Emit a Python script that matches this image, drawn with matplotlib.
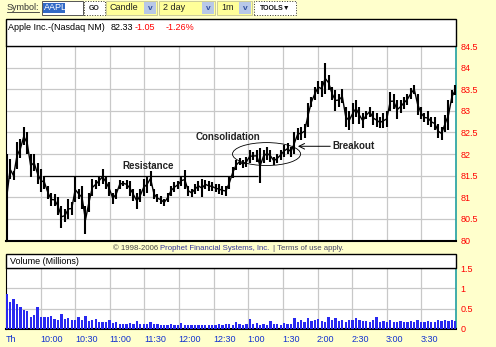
import numpy as np
import matplotlib
matplotlib.use("Agg")
import matplotlib.pyplot as plt
from matplotlib.patches import Rectangle, Ellipse

plt.rcParams['font.family'] = ['Liberation Sans', 'DejaVu Sans']

# price bars (high / low), roughly 3 minute steps from 9:30 to 16:00
highs = [82.0, 81.88, 81.6, 82.27, 82.35, 82.62, 82.5, 82.0, 82.0, 81.8, 81.65, 81.5, 81.27, 81.1, 81.08, 81.0, 80.8,
         80.73, 80.96, 80.9, 81.46, 81.2, 81.27, 80.8, 81.1, 81.42, 81.4, 81.5, 81.65, 81.5, 81.35, 81.1, 81.2, 81.4,
         81.38, 81.4, 81.38, 81.2, 81.1, 81.2, 81.42, 81.5, 81.6, 81.2, 81.08, 81.04, 80.96, 81.1, 81.27, 81.35, 81.38,
         81.5, 81.62, 81.27, 81.2, 81.3, 81.38, 81.42, 81.4, 81.38, 81.35, 81.3, 81.3, 81.27, 81.27, 81.46,
         81.7, 81.86, 81.9, 81.86, 81.94, 82.1, 82.05, 82.1, 82.13, 82.1, 82.17, 82.1, 81.94, 82.0, 82.1, 82.2, 82.25,
         82.17, 82.5, 82.6, 82.63, 82.7, 83.17, 83.32, 83.55, 83.7, 83.7, 84.1, 83.82, 83.55, 83.48, 83.4,
         83.5, 83.1, 83.0, 83.17, 83.25, 83.1, 82.94, 83.0, 83.1, 83.0, 82.94, 82.86, 82.94, 83.0, 83.44, 83.4, 83.25,
         83.25, 83.32, 83.4, 83.52, 83.6, 83.4, 83.1, 82.94, 83.0, 82.86, 82.86, 82.7, 82.63, 82.9, 83.25, 83.48, 83.6]
lows = [80.0, 81.42, 81.4, 81.65, 81.9, 82.2, 82.0, 81.46, 81.6, 81.3, 81.12, 81.2, 80.96, 80.8, 80.8, 80.58, 80.3,
        80.42, 80.5, 80.58, 80.9, 80.96, 80.73, 80.15, 80.65, 81.03, 81.2, 81.27, 81.3, 81.2, 81.03, 80.85, 80.96, 81.2,
        81.27, 81.2, 81.04, 80.92, 80.73, 80.88, 81.04, 81.1, 81.27, 80.96, 80.88, 80.85, 80.8, 80.88, 81.04, 81.12, 81.2,
        81.27, 81.2, 81.04, 81.0, 81.08, 81.15, 81.0, 81.2, 81.15, 81.15, 81.12, 81.08, 81.05, 81.02, 81.2,
        81.44, 81.63, 81.75, 81.67, 81.7, 81.8, 81.86, 81.82, 81.33, 81.8, 81.86, 81.82, 81.75, 81.8, 81.86, 81.94, 82.0,
        81.94, 82.0, 82.33, 82.33, 82.36, 82.63, 83.1, 83.25, 83.4, 83.32, 83.4, 83.48, 83.25, 83.0, 83.1,
        83.17, 82.63, 82.55, 82.7, 82.86, 82.7, 82.6, 82.8, 82.86, 82.67, 82.63, 82.6, 82.6, 82.63, 83.0, 83.05, 82.8,
        82.94, 83.05, 83.13, 83.28, 83.4, 82.9, 82.8, 82.75, 82.67, 82.63, 82.55, 82.36, 82.32, 82.5, 82.55, 83.17, 83.36]

# volume in millions, same steps
volume = [0.86, 0.66, 0.74, 0.62, 0.54, 0.46, 0.44, 0.3, 0.34, 0.54, 0.29, 0.3, 0.29, 0.32, 0.24, 0.22, 0.37, 0.24,
          0.26, 0.21, 0.22, 0.29, 0.21, 0.32, 0.2, 0.22, 0.24, 0.16, 0.18, 0.16, 0.21, 0.14, 0.16, 0.13, 0.12, 0.13,
          0.15, 0.12, 0.2, 0.12, 0.13, 0.12, 0.17, 0.13, 0.12, 0.11, 0.1, 0.11, 0.12, 0.1, 0.11, 0.15, 0.1, 0.09, 0.1,
          0.09, 0.11, 0.09, 0.1, 0.09, 0.11, 0.1, 0.12, 0.1, 0.13, 0.12, 0.11, 0.18, 0.12, 0.11, 0.12, 0.24, 0.12, 0.14,
          0.1, 0.12, 0.11, 0.2, 0.12, 0.13, 0.11, 0.14, 0.12, 0.13, 0.28, 0.16, 0.22, 0.18, 0.27, 0.2, 0.22, 0.25, 0.2,
          0.18, 0.3, 0.22, 0.26, 0.2, 0.22, 0.18, 0.21, 0.23, 0.28, 0.22, 0.19, 0.2, 0.18, 0.21, 0.3, 0.17, 0.19, 0.16,
          0.22, 0.18, 0.17, 0.19, 0.17, 0.18, 0.2, 0.17, 0.21, 0.18, 0.16, 0.19, 0.17, 0.18, 0.21, 0.19, 0.22, 0.2,
          0.21, 0.2]

time_labels = ['Th', '10:00', '10:30', '11:00', '11:30', '12:00', '12:30', '1:00', '1:30', '2:00', '2:30', '3:00', '3:30']
price_ticks = [80, 80.5, 81, 81.5, 82, 82.5, 83, 83.5, 84, 84.5]
vol_ticks = [0, 0.5, 1, 1.5]

W, H = 496, 347
BG = '#FFFFCC'
fig = plt.figure(figsize=(W / 100, H / 100), dpi=100, facecolor=BG)


def rect(x0, y0, x1, y1):
    return [x0 / W, 1 - y1 / H, (x1 - x0) / W, (y1 - y0) / H]


def box(x0, y0, x1, y1, fc, ec='black', lw=0.7, ls='-'):
    fig.patches.append(Rectangle((x0 / W, 1 - y1 / H), (x1 - x0) / W, (y1 - y0) / H, transform=fig.transFigure,
                                 facecolor=fc, edgecolor=ec, linewidth=lw, linestyle=ls))


def ftext(x, y, s, **kw):
    fig.text(x / W, 1 - y / H, s, **kw)


t = np.linspace(0.6, 389.4, len(highs))
grid_c = '#C8C8C8'

# ---- toolbar
ftext(7, 8, 'Symbol:', fontsize=6.5, color='#333333', va='center')
fig.lines.append(plt.Line2D([7 / W, 39 / W], [1 - 12 / H, 1 - 12 / H], transform=fig.transFigure, color='#333333', lw=0.6))
box(42, 1, 83, 15, 'white', '#555555')
box(43, 3, 65, 13, '#3169C6', 'none')
ftext(44, 8, 'AAPL', fontsize=6.5, color='white', va='center')
box(84, 1, 105, 15, 'white', '#333333', ls=':')
ftext(94.5, 8, 'GO', fontsize=5, color='#222222', va='center', ha='center', weight='bold')
for x0, x1, lab in [(106, 157, 'Candle'), (159, 215, '2 day'), (217, 252, '1m')]:
    box(x0, 1, x1, 15, '#FFFF99', '#CCCC99')
    box(x1 - 13, 2, x1 - 1, 14, '#B8C8E8', 'none')
    ftext(x0 + 4, 8, lab, fontsize=6.5, color='#222222', va='center')
    ftext(x1 - 7, 8, 'v', fontsize=6, color='#3050A0', va='center', ha='center', weight='bold')
box(254, 1, 296, 15, 'white', '#333333', ls=':')
ftext(275, 8, 'TOOLS\u25BC', fontsize=5, color='#111111', va='center', ha='center', weight='bold')

# ---- price panel
box(6, 19, 456, 46, 'white', 'black', lw=1)
ftext(8, 27, 'Apple Inc.-(Nasdaq NM)', fontsize=6.5, color='black', va='center')
ftext(111, 27, '82.33', fontsize=6.5, color='black', va='center')
ftext(135, 27, '-1.05', fontsize=6.5, color='red', va='center')
ftext(166, 27, '-1.26%', fontsize=6.5, color='red', va='center')

ax = fig.add_axes(rect(6, 46, 456, 240.5))
ax.set_facecolor('white')
ax.set_xlim(0, 390)
ax.set_ylim(80, 84.5)
for m in range(30, 390, 30):
    ax.axvline(m, color=grid_c, lw=0.9, zorder=0)
for p in price_ticks[1:-1]:
    ax.axhline(p, color=grid_c, lw=0.9, zorder=0)
ax.vlines(t, lows, highs, colors='black', linewidth=1.5, zorder=3)
ax.plot(t, (np.array(highs) + np.array(lows)) / 2, color='black', lw=1.0, zorder=3)

ax.hlines(81.5, 32, 218, colors='black', lw=0.9, zorder=4)
ax.add_patch(Ellipse((225.8, 82.0), 59, 0.53, fill=False, edgecolor='black', lw=0.6, zorder=4))
ax.annotate('', xy=(253, 82.18), xytext=(281, 82.18),
            arrowprops=dict(arrowstyle='->', color='black', lw=0.7, shrinkA=0, shrinkB=0))
ax.text(101, 81.72, 'Resistance', fontsize=7, weight='bold', va='center', color='#222222')
ax.text(164.5, 82.40, 'Consolidation', fontsize=7, weight='bold', va='center', color='#222222')
ax.text(283, 82.18, 'Breakout', fontsize=7, weight='bold', va='center', color='#222222')

ax.set_xticks([])
ax.yaxis.tick_right()
ax.set_yticks(price_ticks)
ax.set_yticklabels([f'{v:g}' for v in price_ticks])
ax.tick_params(axis='y', length=0, pad=3, labelsize=6.5, labelcolor='red')
for s in ['left', 'top']:
    ax.spines[s].set_color('black')
    ax.spines[s].set_linewidth(0.8)
ax.spines['bottom'].set_linewidth(1.5)
ax.spines['right'].set_color('#20A0A0')
ax.spines['right'].set_linewidth(1.2)

# copyright line
ftext(113, 249, '\u00a9 1998-2006', fontsize=5.6, color='#444444', va='center')
ftext(160, 249, 'Prophet Financial Systems, Inc.', fontsize=5.6, color='#333399', va='center')
ftext(273, 249, '| Terms of use apply.', fontsize=5.6, color='#444466', va='center')

# ---- volume panel
box(6, 254, 456, 268, 'white', 'black', lw=1)
ftext(10, 262, 'Volume (Millions)', fontsize=6.5, color='black', va='center')
ax2 = fig.add_axes(rect(6, 268, 456, 329))
ax2.set_facecolor('white')
ax2.set_xlim(0, 390)
ax2.set_ylim(0, 1.5)
for m in range(30, 390, 30):
    ax2.axvline(m, color=grid_c, lw=0.9, zorder=0)
for v in vol_ticks[1:-1]:
    ax2.axhline(v, color=grid_c, lw=0.9, zorder=0)
ax2.bar(t, volume, width=2.0, color='#2828F0', zorder=3)
ax2.set_xticks([])
ax2.yaxis.tick_right()
ax2.set_yticks(vol_ticks)
ax2.set_yticklabels([f'{v:g}' for v in vol_ticks])
ax2.tick_params(axis='y', length=0, pad=3, labelsize=6.5, labelcolor='red')
ax2.spines['left'].set_linewidth(0.8)
ax2.spines['top'].set_linewidth(0.8)
ax2.spines['bottom'].set_linewidth(1.5)
ax2.spines['right'].set_color('#20A0A0')
ax2.spines['right'].set_linewidth(1.2)

# time axis labels
for i, lab in enumerate(time_labels):
    x = 6 + i * 30 * 449 / 390
    ftext(x, 339, lab, fontsize=6.5, color='#1030D0', va='center')

fig.savefig('out.png', dpi=100, facecolor=BG)
